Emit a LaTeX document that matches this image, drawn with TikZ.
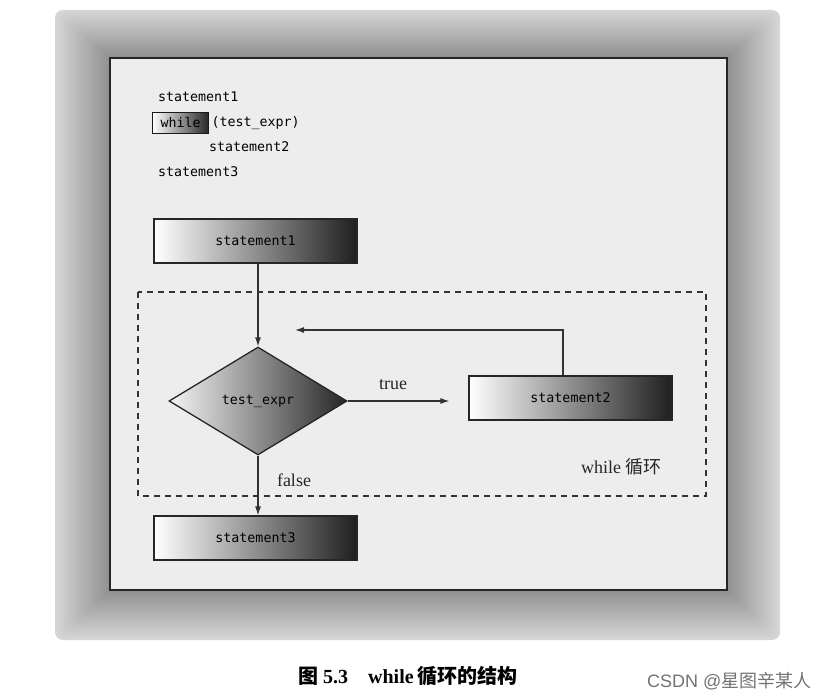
\documentclass[tikz,border=0pt]{standalone}
\usepackage{fontspec}
\setmainfont{Liberation Serif}
\newfontfamily\monof{DejaVu Sans Mono}
\newfontfamily\cjk{Noto Sans CJK SC}
\newfontfamily\wmfont{Liberation Sans}
\usetikzlibrary{shapes.geometric,arrows.meta,calc}
\begin{document}
\begin{tikzpicture}[x=1pt,y=-1pt,
  code/.style={font=\monof\fontsize{13.3}{15}\selectfont, inner sep=1pt, text=black},
  shadebox/.style={draw=black!85, line width=1.3pt, left color=white, right color=black!88,
     minimum width=203pt, minimum height=44pt, inner sep=0pt,
     font=\monof\fontsize{13.3}{15}\selectfont, text=black},
  dia/.style={diamond, draw=black!85, line width=1.3pt, left color=white!92!gray, right color=black!85,
     minimum width=178pt, minimum height=108pt, inner sep=0pt,
     font=\monof\fontsize{13.3}{15}\selectfont, text=black},
  lbl/.style={font=\fontsize{18}{20}\selectfont, inner sep=0pt, text=black!85},
  arr/.style={draw=black!80, line width=1.1pt, -{Latex[length=9pt,width=6pt]}},
]
\useasboundingbox (0,0) rectangle (833,700);
\fill[white] (0,0) rectangle (833,700);
% drop shadow
\foreach \i in {0,...,29}{
  \pgfmathsetmacro\f{\i/30}
  \pgfmathsetmacro\c{16+28*\f}
  \fill[black!\c, rounded corners={8*(1-\f)}] ({55+55*\f},{10+48*\f}) rectangle ({780-53*\f},{640-50*\f});
}
% panel
\draw[fill=black!7, draw=black!85, line width=1.8pt] (110,58) rectangle (727,590);
% code listing
\node[code, anchor=west] (c1) at (157,97) {statement1};
\node[code, anchor=west, draw=black!90, line width=1.3pt, left color=white, right color=black!85,
      minimum width=56pt, minimum height=21pt, inner xsep=4pt] (cw) at (152,123) {while};
\node[code, anchor=west] (c2) at ($(cw.east)+(1,0)$) {(test\_expr)};
\node[code, anchor=west] (c3) at (208,147) {statement2};
\node[code, anchor=west] (c4) at (157,172) {statement3};
% dashed loop region
\draw[black!80, line width=1.5pt, dash pattern=on 6pt off 5pt] (138,292) rectangle (706,496);
% flowchart
\node[shadebox] (s1) at (255.5,241) {statement1};
\node[dia] (d) at (258,401) {test\_expr};
\node[shadebox] (s2) at (570.5,398) {statement2};
\node[shadebox] (s3) at (255.5,538) {statement3};
\coordinate (loopend) at (295,330);
\draw[arr] (s1.south -| d.north) -- (d.north);
\draw[arr] (d.east) -- ($(d.east -| s2.west)+(-19,0)$);
\draw[arr] (s2.north -| 563,0) |- (loopend);
\draw[arr] (d.south) -- (s3.north -| d.south);
\node[lbl] (t) at (393,385) {true};
\node[lbl] (f) at (294,480) {false};
\node[lbl, anchor=west] (wl) at (581,467) {while {\cjk 循环}};
% caption
\node[anchor=west, inner sep=0pt, font=\fontsize{20}{22}\selectfont\bfseries] (cap) at (298,676)
  {{\cjk 图} 5.3\hspace{20pt}while\,{\cjk 循环的结构}};
\node[anchor=west, inner sep=0pt, text=black!55, font=\wmfont\fontsize{18}{20}\selectfont] (wm) at (647,681)
  {CSDN @{\cjk 星图辛某人}};
\end{tikzpicture}
\end{document}
